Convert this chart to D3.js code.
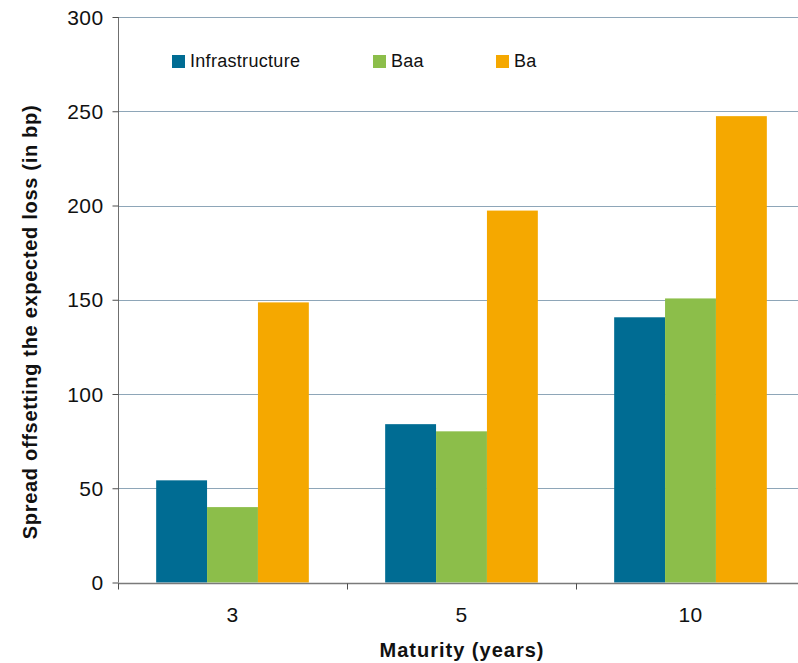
<!DOCTYPE html>
<html>
<head>
<meta charset="utf-8">
<script src="https://cdn.jsdelivr.net/npm/d3@7"></script>
<style>
  html, body { margin: 0; padding: 0; background: #fff; }
  svg { display: block; font-family: "Liberation Sans", Arial, sans-serif; }
</style>
</head>
<body>
<svg id="chart" width="798" height="663"></svg>
<script>
// Maturities (years) and the spread each rating needs to offset its expected loss (bp)
const maturities = ["3", "5", "10"];
const seriesNames = ["Infrastructure", "Baa", "Ba"];
const infrastructure = [54.2, 84, 140.7];
const baa = [40, 80.2, 150.7];
const ba = [148.6, 197.3, 247.4];
const yTicks = [0, 50, 100, 150, 200, 250, 300];
const colors = ["#006c93", "#8cbe4a", "#f5a800"];

const seriesValues = [infrastructure, baa, ba];

const svg = d3.select("#chart");
const margin = { left: 118, top: 17, bottom: 582.5 };
const bandWidth = 229;
const fontStack = "Liberation Sans, Arial, sans-serif";

const x = d3.scaleBand()
  .domain(maturities)
  .range([margin.left, margin.left + bandWidth * maturities.length])
  .paddingInner(0).paddingOuter(0);

// bar width follows a 150% gap between groups
const barW = x.bandwidth() / 4.5;
const xs = d3.scaleBand()
  .domain(seriesNames)
  .range([0, barW * 3]);

const y = d3.scaleLinear().domain([0, 300]).range([margin.bottom, margin.top]);

// horizontal gridlines
svg.append("g")
  .selectAll("line")
  .data(yTicks.filter(d => d > 0))
  .join("line")
  .attr("x1", margin.left)
  .attr("x2", 798)
  .attr("y1", d => Math.round(y(d)) + 0.5)
  .attr("y2", d => Math.round(y(d)) + 0.5)
  .attr("stroke", "#8ea6b8")
  .attr("stroke-width", 1);

// bars
const groups = svg.append("g")
  .selectAll("g")
  .data(maturities)
  .join("g")
  .attr("transform", d => `translate(${x(d) + (x.bandwidth() - barW * 3) / 2},0)`);

groups.selectAll("rect")
  .data((m, i) => seriesNames.map((s, j) => ({ s, v: seriesValues[j][i], c: colors[j] })))
  .join("rect")
  .attr("x", d => xs(d.s))
  .attr("width", xs.bandwidth())
  .attr("y", d => y(d.v))
  .attr("height", d => y(0) - y(d.v))
  .attr("fill", d => d.c);

// y axis
const yAxis = svg.append("g")
  .attr("transform", `translate(${margin.left + 0.5},0)`)
  .call(d3.axisLeft(y).tickValues(yTicks).tickSize(6).tickPadding(9));
yAxis.select(".domain").attr("stroke", "#6f6f6f").attr("d", `M0,${y(0)}V${y(300)}`);
yAxis.selectAll(".tick line").attr("stroke", "#4d4d4d");
yAxis.selectAll(".tick text")
  .attr("font-size", 21)
  .attr("letter-spacing", 0.4)
  .attr("dy", "0.34em")
  .attr("fill", "#111")
  .attr("font-family", fontStack);

// x axis with ticks on group boundaries
const xAxisG = svg.append("g").attr("transform", `translate(0,${Math.round(y(0)) + 0.5})`);
xAxisG.append("line")
  .attr("x1", margin.left).attr("x2", 798)
  .attr("stroke", "#7a7a7a").attr("stroke-width", 1.5);
const boundaries = maturities.map(m => x(m)).concat([x(maturities[maturities.length - 1]) + x.bandwidth()]);
xAxisG.selectAll("line.tk")
  .data(boundaries)
  .join("line")
  .attr("class", "tk")
  .attr("x1", d => Math.round(d) + 0.5).attr("x2", d => Math.round(d) + 0.5)
  .attr("y1", 0).attr("y2", 6)
  .attr("stroke", "#4d4d4d");
xAxisG.selectAll("text")
  .data(maturities)
  .join("text")
  .attr("x", d => x(d) + x.bandwidth() / 2)
  .attr("y", 38)
  .attr("text-anchor", "middle")
  .attr("font-size", 21)
  .attr("letter-spacing", 0.4)
  .attr("fill", "#111")
  .text(d => d);

// axis titles
svg.append("text")
  .attr("x", 462)
  .attr("y", 657)
  .attr("text-anchor", "middle")
  .attr("font-size", 20)
  .attr("letter-spacing", 1)
  .attr("font-weight", "bold")
  .attr("fill", "#111")
  .text("Maturity (years)");

svg.append("text")
  .attr("transform", "translate(37,322) rotate(-90)")
  .attr("text-anchor", "middle")
  .attr("font-size", 20)
  .attr("letter-spacing", 0.7)
  .attr("font-weight", "bold")
  .attr("fill", "#111")
  .text("Spread offsetting the expected loss (in bp)");

// legend
const legendX = [172, 373, 496];
const legend = svg.append("g")
  .selectAll("g")
  .data(seriesNames)
  .join("g")
  .attr("transform", (d, i) => `translate(${legendX[i]},55)`);
legend.append("rect")
  .attr("width", 13).attr("height", 13)
  .attr("fill", (d, i) => colors[i]);
legend.append("text")
  .attr("x", 18).attr("y", 11.5)
  .attr("font-size", 18)
  .attr("letter-spacing", 0.3)
  .attr("fill", "#111")
  .text(d => d);
</script>
</body>
</html>
